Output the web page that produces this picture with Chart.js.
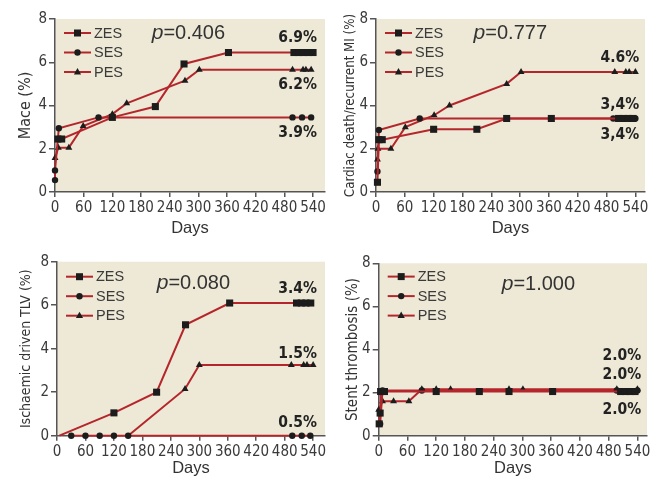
<!DOCTYPE html>
<html lang="en">
<head>
  <meta charset="UTF-8" />
  <title>ZES / SES / PES outcomes</title>
  <script src="https://cdn.jsdelivr.net/npm/chart.js"></script>
  <style>
    body {
      margin: 0;
      background: #fff;
      width: 660px;
      height: 479px;
      position: relative;
      overflow: hidden;
    }
    canvas {
      position: absolute;
    }
  </style>
</head>
<body>
  <canvas id="mace" width="330" height="240" style="left:0;top:0"></canvas>
  <canvas id="cardiac" width="330" height="240" style="left:330px;top:0"></canvas>
  <canvas id="tlv" width="330" height="240" style="left:0;top:240px"></canvas>
  <canvas id="stent" width="330" height="240" style="left:330px;top:240px"></canvas>

  <script>
    // ---- data (days, %) ----
    const seriesNames = ["ZES", "SES", "PES"];
    const dayTicks = [0, 60, 120, 180, 240, 300, 360, 420, 480, 540];
    const pctTicks = [0, 2, 4, 6, 8];

    const maceZES = [[6, 2.45], [14, 2.45], [120, 3.45], [210, 3.95], [270, 5.92], [363, 6.45], [500, 6.45], [510, 6.45], [520, 6.45], [530, 6.45], [540, 6.45]];
    const maceSES = [[0, 0.55], [0, 1.0], [8, 2.95], [91, 3.45], [497, 3.45], [517, 3.45], [536, 3.45]];
    const macePES = [[0, 1.57], [7, 2.05], [29, 2.05], [59, 3.05], [120, 3.6], [150, 4.1], [272, 5.15], [302, 5.65], [497, 5.65], [519, 5.65], [525, 5.65], [536, 5.65]];
    const maceLabels = ["6.9%", "6.2%", "3.9%"];

    const cardiacZES = [[3, 0.45], [6, 2.42], [13, 2.42], [120, 2.9], [210, 2.9], [272, 3.4], [365, 3.4], [505, 3.4], [515, 3.4], [525, 3.4], [535, 3.4]];
    const cardiacSES = [[3, 0.95], [6, 2.87], [91, 3.4], [494, 3.4], [540, 3.4]];
    const cardiacPES = [[3, 1.5], [4, 2.0], [31, 2.0], [61, 3.0], [121, 3.55], [153, 4.0], [272, 5.0], [302, 5.55], [497, 5.55], [520, 5.55], [527, 5.55], [540, 5.55]];
    const cardiacLabels = ["4.6%", "3,4%", "3,4%"];

    const tlvZES = [[5, 0], [120, 1.05], [210, 2.0], [271, 5.1], [364, 6.1], [505, 6.1], [515, 6.1], [525, 6.1], [535, 6.1]];
    const tlvSES = [[30, 0], [60, 0], [90, 0], [120, 0], [150, 0], [496, 0], [516, 0], [534, 0]];
    const tlvPES = [[150, 0], [270, 2.15], [300, 3.25], [494, 3.25], [520, 3.25], [527, 3.25], [540, 3.25]];
    const tlvLabels = ["3.4%", "1.5%", "0.5%"];

    const stentZES = [[1, 0.55], [3, 1.05], [4, 2.05], [12, 2.05], [120, 2.05], [210, 2.05], [272, 2.05], [363, 2.05], [505, 2.05], [515, 2.05], [525, 2.05], [535, 2.05]];
    const stentSES = [[3, 0.55], [8, 2.1], [90, 2.1], [497, 2.1], [540, 2.1]];
    const stentPES = [[0, 1.2], [8, 1.6], [31, 1.6], [63, 1.6], [90, 2.15], [120, 2.15], [150, 2.15], [272, 2.15], [301, 2.15], [497, 2.15], [540, 2.15]];
    const stentLabels = ["2.0%", "2.0%", "2.0%"];

    // ---- look ----
    const LINE = "#b5262c";
    const MARK = "#1c1c1c";
    const PLOT_BG = "#ede9d6";
    const AXIS = "#555";
    const TEXT = "#3a3a3a";
    const COND = "'DejaVu Sans', sans-serif"; // used with font-stretch: condensed
    const SANS = "'Liberation Sans', Arial, sans-serif";
    const markers = [
      { style: "rect", radius: 5 },
      { style: "circle", radius: 3.2 },
      { style: "triangle", radius: 4 }
    ];

    function drawMarker(ctx, style, x, y) {
      ctx.fillStyle = MARK;
      ctx.beginPath();
      if (style === "rect") {
        ctx.rect(x - 3.5, y - 3.5, 7, 7);
      } else if (style === "circle") {
        ctx.arc(x, y, 3.2, 0, Math.PI * 2);
      } else {
        ctx.moveTo(x, y - 4);
        ctx.lineTo(x + 3.6, y + 2.4);
        ctx.lineTo(x - 3.6, y + 2.4);
        ctx.closePath();
      }
      ctx.fill();
    }

    // beige plot area, legend, p value and end labels
    const panelDecor = {
      id: "panelDecor",
      beforeDraw(chart) {
        const { ctx, chartArea: a } = chart;
        ctx.save();
        ctx.fillStyle = PLOT_BG;
        ctx.fillRect(a.left, a.top, a.right - a.left, a.bottom - a.top);
        ctx.restore();
      },
      afterDraw(chart) {
        const { ctx, chartArea: a, scales } = chart;
        const o = chart.options.plugins.panelDecor;
        ctx.save();
        // legend
        seriesNames.forEach((name, i) => {
          const y = a.top + o.legendTop + i * 19.5;
          ctx.strokeStyle = LINE;
          ctx.lineWidth = 2;
          ctx.beginPath();
          ctx.moveTo(a.left + 9, y);
          ctx.lineTo(a.left + 36, y);
          ctx.stroke();
          drawMarker(ctx, markers[i].style, a.left + 22.5, y);
          ctx.fillStyle = TEXT;
          ctx.font = "14.5px " + SANS;
          ctx.textBaseline = "middle";
          ctx.textAlign = "left";
          ctx.fillText(name, a.left + 39, y + 0.5);
        });
        // p value
        ctx.fillStyle = "#333";
        ctx.textBaseline = "alphabetic";
        ctx.textAlign = "left";
        const px = a.left + o.pX, py = a.top + o.pY;
        ctx.font = "italic 21px " + SANS;
        ctx.fillText("p", px, py);
        const w = ctx.measureText("p").width;
        ctx.font = "20px " + SANS;
        ctx.fillText("=" + o.pValue, px + w, py);
        // end-of-follow-up percentages
        ctx.fillStyle = "#222";
        ctx.font = "bold condensed 15.5px " + COND;
        ctx.textAlign = "right";
        ctx.textBaseline = "middle";
        o.labels.forEach((t, i) => {
          ctx.fillText(t, scales.x.getPixelForValue(548), scales.y.getPixelForValue(o.labelY[i]));
        });
        ctx.restore();
      }
    };

    function makePanel(id, yTitle, series, pValue, labels, box) {
      const datasets = series.map((pts, i) => ({
        label: seriesNames[i],
        data: pts.map(p => ({ x: p[0], y: p[1] })),
        borderColor: LINE,
        borderWidth: 2,
        backgroundColor: MARK,
        pointBackgroundColor: MARK,
        pointBorderWidth: 0,
        pointStyle: markers[i].style,
        // no square/triangle sitting on the zero line (only SES marks events there)
        pointRadius: ctx => (ctx.raw && ctx.raw.y === 0 && i !== 1) ? 0 : markers[i].radius,
        tension: 0,
        clip: false
      }));

      new Chart(document.getElementById(id), {
        type: "line",
        data: { datasets },
        options: {
          responsive: false,
          animation: false,
          devicePixelRatio: 1,
          layout: { padding: { top: box.top, right: 330 - box.right, left: 0, bottom: 0 } },
          plugins: {
            legend: { display: false },
            tooltip: { enabled: false },
            panelDecor: { pValue, labels, labelY: box.labelY, pX: box.pX, pY: box.pY, legendTop: box.legendTop }
          },
          scales: {
            x: {
              type: "linear",
              min: 0,
              max: box.xMax,
              afterBuildTicks: s => { s.ticks = dayTicks.map(v => ({ value: v })); },
              afterFit: s => { s.height = 240 - box.bottom; },
              grid: { drawOnChartArea: false, drawTicks: true, tickLength: 5, color: AXIS, lineWidth: 1.5 },
              border: { display: true, color: AXIS, width: 1.5 },
              ticks: { color: TEXT, font: { family: COND, size: 15, weight: "condensed" }, padding: 2, maxRotation: 0, autoSkip: false },
              title: { display: true, text: "Days", color: "#333", font: { family: SANS, size: 16.5 }, padding: { top: 0, bottom: 1.5 } }
            },
            y: {
              min: 0,
              max: 8,
              afterBuildTicks: s => { s.ticks = pctTicks.map(v => ({ value: v })); },
              afterFit: s => { s.width = box.left; },
              grid: { drawOnChartArea: false, drawTicks: true, tickLength: 6, color: AXIS, lineWidth: 1.5 },
              border: { display: true, color: AXIS, width: 1.5 },
              ticks: { color: TEXT, font: { family: COND, size: 15, weight: "condensed" }, padding: 2 },
              title: { display: true, text: yTitle, color: "#333", font: { family: COND, size: box.titleSize, weight: "condensed" }, padding: { top: box.titleX - box.titleSize * 0.6, bottom: 0 } }
            }
          }
        },
        plugins: [panelDecor]
      });
    }

    makePanel("mace", "Mace (%)", [maceZES, maceSES, macePES], "0.406", maceLabels,
      { left: 55, right: 325, top: 19, bottom: 192, xMax: 565, titleX: 25.7, titleSize: 16, pX: 96.7, pY: 20, legendTop: 14, labelY: [7.14, 4.95, 2.72] });
    makePanel("cardiac", "Cardiac death/recurrent MI (%)", [cardiacZES, cardiacSES, cardiacPES], "0.777", cardiacLabels,
      { left: 46, right: 315, top: 19, bottom: 192, xMax: 560, titleX: 20.7, titleSize: 13.2, pX: 97.6, pY: 20, legendTop: 14, labelY: [6.19, 4.02, 2.65] });
    makePanel("tlv", "Ischaemic driven TLV (%)", [tlvZES, tlvSES, tlvPES], "0.080", tlvLabels,
      { left: 57, right: 325, top: 21.7, bottom: 195.7, xMax: 565, titleX: 26.7, titleSize: 14, pX: 99.7, pY: 27.6, legendTop: 15, labelY: [6.73, 3.74, 0.6] });
    makePanel("stent", "Stent thrombosis (%)", [stentZES, stentSES, stentPES], "1.000", stentLabels,
      { left: 48.7, right: 317, top: 23.3, bottom: 195.7, xMax: 560, titleX: 23.3, titleSize: 15, pX: 123, pY: 26.7, legendTop: 13.3, labelY: [3.7, 2.82, 1.19] });
  </script>
</body>
</html>
